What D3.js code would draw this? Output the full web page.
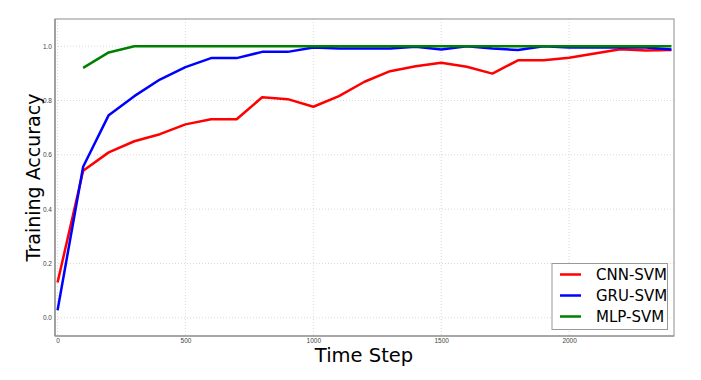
<!DOCTYPE html>
<html><head><meta charset="utf-8">
<script src="https://cdn.jsdelivr.net/npm/d3@7"></script>
<style>body{margin:0;background:#fff;}svg{display:block;font-family:"DejaVu Sans",sans-serif;}</style>
</head><body><svg id="c" width="701" height="380"></svg>
<script>
const steps = [0,100,200,300,400,500,600,700,800,900,1000,1100,1200,1300,1400,1500,1600,1700,1800,1900,2000,2100,2200,2300,2400];
const cnnSvm = [0.13,0.541,0.609,0.650,0.676,0.712,0.731,0.731,0.812,0.805,0.777,0.816,0.869,0.908,0.926,0.939,0.924,0.899,0.948,0.948,0.957,0.973,0.989,0.984,0.986];
const gruSvm = [0.028,0.556,0.746,0.816,0.877,0.923,0.956,0.956,0.979,0.979,0.995,0.991,0.991,0.991,0.998,0.988,1.0,0.991,0.986,1.0,0.995,0.995,0.995,0.995,0.988];
const mlpSteps = [100,200,300,400,500,600,700,800,900,1000,1100,1200,1300,1400,1500,1600,1700,1800,1900,2000,2100,2200,2300,2400];
const mlpSvm = [0.920,0.977,1.0,1.0,1.0,1.0,1.0,1.0,1.0,1.0,1.0,1.0,1.0,1.0,1.0,1.0,1.0,1.0,1.0,1.0,1.0,1.0,1.0,1.0];
const xTicks = [0,500,1000,1500,2000];
const yTicks = [0.0,0.2,0.4,0.6,0.8,1.0];
const seriesNames = ["CNN-SVM","GRU-SVM","MLP-SVM"];
const seriesColors = ["#ff0000","#0000ff","#008000"];

const svg = d3.select("#c");
const L=55,T=19,R=674,B=336;
const x = d3.scaleLinear().domain([-10,2410]).range([L,R]);
const y = d3.scaleLinear().domain([-0.067,1.1]).range([B,T]);

// grid
const g = svg.append("g");
g.selectAll(".vg").data(xTicks).join("line")
 .attr("x1",d=>x(d)).attr("x2",d=>x(d)).attr("y1",T).attr("y2",B)
 .attr("stroke","#cfcfcf").attr("stroke-width",0.8).attr("stroke-dasharray","1,2");
g.selectAll(".hg").data(yTicks).join("line")
 .attr("y1",d=>y(d)).attr("y2",d=>y(d)).attr("x1",L).attr("x2",R)
 .attr("stroke","#cfcfcf").attr("stroke-width",0.8).attr("stroke-dasharray","1,2");

// axes
const xa = svg.append("g").attr("transform",`translate(0,${B})`)
 .call(d3.axisBottom(x).tickValues(xTicks).tickFormat(d3.format("d")).tickSize(0).tickPadding(2));
xa.select(".domain").remove();
xa.selectAll("text").attr("font-size",6.5).attr("fill","#444");
const ya = svg.append("g").attr("transform",`translate(${L},0)`)
 .call(d3.axisLeft(y).tickValues(yTicks).tickFormat(d3.format(".1f")).tickSize(0).tickPadding(3));
ya.select(".domain").remove();
ya.selectAll("text").attr("font-size",6.5).attr("fill","#444");

// frame
svg.append("rect").attr("x",L).attr("y",T).attr("width",R-L).attr("height",B-T)
 .attr("fill","none").attr("stroke","#a0a0a0").attr("stroke-width",1.2);
svg.append("line").attr("x1",L).attr("x2",L).attr("y1",T).attr("y2",B).attr("stroke","#888").attr("stroke-width",1.2);
svg.append("line").attr("x1",L).attr("x2",R).attr("y1",B).attr("y2",B).attr("stroke","#888").attr("stroke-width",1.2);

// lines
const line = d3.line().x(d=>x(d[0])).y(d=>y(d[1]));
const data = [
 steps.map((s,i)=>[s,cnnSvm[i]]),
 steps.map((s,i)=>[s,gruSvm[i]]),
 mlpSteps.map((s,i)=>[s,mlpSvm[i]])
];
data.forEach((d,i)=>{
 svg.append("path").attr("d",line(d)).attr("fill","none")
  .attr("stroke",seriesColors[i]).attr("stroke-width",2.5).attr("stroke-linejoin","round");
});

// axis labels
svg.append("text").attr("x",364).attr("y",362).attr("text-anchor","middle")
 .attr("font-size",19.5).attr("fill","#000").text("Time Step");
svg.append("text").attr("transform","translate(40,177.5) rotate(-90)").attr("text-anchor","middle")
 .attr("font-size",19).attr("fill","#000").text("Training Accuracy");

// legend
const lg = svg.append("g");
lg.append("rect").attr("x",552).attr("y",263.5).attr("width",115.5).attr("height",66)
 .attr("fill","#fff").attr("stroke","#999").attr("stroke-width",1);
seriesNames.forEach((n,i)=>{
 const yy = 274.5 + i*21;
 lg.append("line").attr("x1",560).attr("x2",581).attr("y1",yy).attr("y2",yy)
  .attr("stroke",seriesColors[i]).attr("stroke-width",2.5);
 lg.append("text").attr("x",596).attr("y",yy+5.5).attr("font-size",15).attr("fill","#000").text(n);
});
</script></body></html>
